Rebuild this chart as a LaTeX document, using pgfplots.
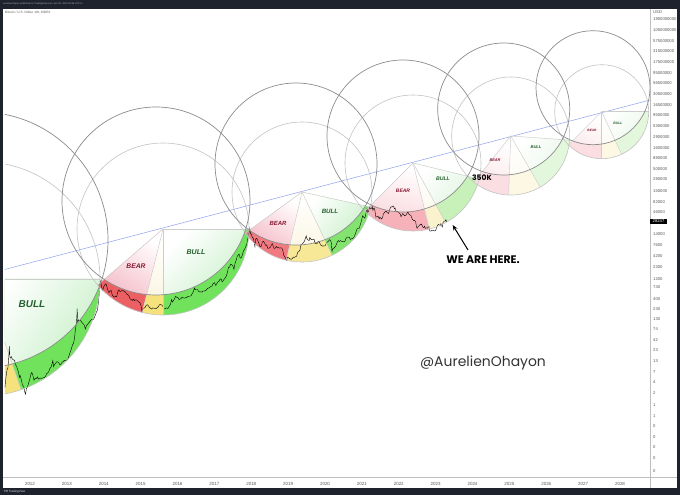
\documentclass[border=0pt]{standalone}
\usepackage{fontspec}
\setmainfont{Liberation Sans}
\newfontfamily\pop{Poppins}
\usepackage{pgfplots}
\pgfplotsset{compat=1.18}
\usetikzlibrary{arrows.meta}
\definecolor{tvdark}{RGB}{30,34,45}
\definecolor{bearB}{RGB}{236,96,100}
\definecolor{midB}{RGB}{245,226,125}
\definecolor{bullB}{RGB}{112,226,92}
\definecolor{bearBc}{RGB}{240,122,128}
\definecolor{midBc}{RGB}{246,232,150}
\definecolor{bullBc}{RGB}{130,228,110}
\definecolor{bearB2}{RGB}{246,178,184}
\definecolor{midB2}{RGB}{250,242,205}
\definecolor{bullB2}{RGB}{200,240,185}
\definecolor{bearB3}{RGB}{250,222,226}
\definecolor{midB3}{RGB}{252,248,228}
\definecolor{bullB3}{RGB}{226,247,220}
\definecolor{bearL}{RGB}{243,178,192}
\definecolor{midL}{RGB}{250,244,222}
\definecolor{bullL}{RGB}{196,238,196}
\definecolor{bearL2}{RGB}{248,208,215}
\definecolor{midL2}{RGB}{251,247,232}
\definecolor{bullL2}{RGB}{218,243,218}
\definecolor{bearL3}{RGB}{250,228,232}
\definecolor{midL3}{RGB}{252,249,238}
\definecolor{bullL3}{RGB}{232,246,232}
\definecolor{circD}{RGB}{140,140,140}
\definecolor{circL}{RGB}{195,195,195}
\definecolor{rayc}{RGB}{205,205,205}
\definecolor{trend}{RGB}{150,168,238}
\definecolor{bearT}{RGB}{135,25,50}
\definecolor{bullT}{RGB}{35,95,45}
% sector fill: apex, R, a1, a2, colour
\newcommand\band[5]{\fill[#5] (#1) -- ++(#3:#2) arc[start angle=#3, end angle=#4, radius=#2] -- cycle;}
% light part inside dark circle: apex, R, a1, a2, D, r, colour, shading angle
\newcommand\lite[8]{\begin{scope}\clip (#5) circle[radius=#6];
\shade[top color=white, bottom color=#7, shading angle=#8] (#1) -- ++(#3:#2) arc[start angle=#3, end angle=#4, radius=#2] -- cycle;
\end{scope}}
\newcommand\ray[3]{\draw[rayc, line width=0.45bp] (#1) -- ++(#2:#3);}
\begin{document}
\begin{tikzpicture}
\fill[tvdark] (0,0) rectangle (680bp,495bp);
\fill[white] (3bp,7bp) rectangle (677bp,486bp);
\draw[black!25, line width=0.8bp] (650bp,7bp) -- (650bp,486bp);
\draw[black!25, line width=0.8bp] (3bp,18bp) -- (677bp,18bp);
\node[anchor=west, inner sep=0pt, font=\fontsize{2.4}{3}\selectfont, text=white!70!black] at (3bp,491bp) {aurelienohayon published on TradingView.com, Apr 25, 2023 23:38 UTC+1};
\node[anchor=west, inner sep=0pt, font=\fontsize{3.2}{4}\selectfont, text=black!65] at (5bp,482.3bp) {Bitcoin / U.S. Dollar, 1W, INDEX};
\node[anchor=west, inner sep=0pt, font=\fontsize{3}{4}\selectfont, text=white!85!black] at (4bp,3.2bp) {\textbf{TV} TradingView};
\node[anchor=west, inner sep=0pt, font=\fontsize{4.2}{5}\selectfont, text=black!65] at (653bp,483bp) {USD};
\begin{axis}[
  at={(5bp,18bp)}, anchor=south west, scale only axis,
  width=645bp, height=467bp,
  xmin=2011.3220, xmax=2028.8136,
  ymode=log, ymin=0.022069, ymax=3.0857e9,
  clip mode=individual,
  axis line style={draw=none},
  major tick length=0pt, minor tick length=0pt,
  xtick={2012,2013,2014,2015,2016,2017,2018,2019,2020,2021,2022,2023,2024,2025,2026,2027,2028},
  xticklabels={2012,2013,2014,2015,2016,2017,2018,2019,2020,2021,2022,2023,2024,2025,2026,2027,2028},
  xticklabel style={font=\fontsize{4.5}{5}\selectfont, text=black!65, anchor=center, yshift=-6.5bp},
  ytick={1.9e9,1.05e9,5.75e8,3.15e8,1.75e8,9.5e7,5.65e7,3.05e7,1.65e7,9.5e6,5.3e6,2.9e6,1.6e6,8.8e5,5e5,2.8e5,1.5e5,82000,46000,14000,7600,4200,2300,1200,740,400,230,130,74,42,23,13,7.2,4,2.2,1.15,0.62,0.364,0.199,0.115,0.0627,0.0307},
  yticklabels={1900000000,1050000000,575000000,315000000,175000000,95000000,56500000,30500000,16500000,9500000,5300000,2900000,1600000,880000,500000,280000,150000,82000,46000,14000,7600,4200,2300,1200,740,400,230,130,74,42,23,13,7,4,2,1,1,0,0,0,0,0},
  yticklabel pos=right,
  yticklabel style={font=\fontsize{4.2}{5}\selectfont, text=black!65, anchor=west, inner sep=0pt, xshift=3bp},
]
\coordinate (A1) at (axis cs:2010.7254,1173);
\coordinate (D1) at (axis cs:2010.6441,10000);
\coordinate (A2) at (axis cs:2015.6068,18305);
\coordinate (D2) at (axis cs:2015.4169,85290);
\coordinate (A3) at (axis cs:2019.3763,139800);
\coordinate (D3) at (axis cs:2019.2136,651300);
\coordinate (A4) at (axis cs:2022.3864,688200);
\coordinate (D4) at (axis cs:2022.1153,3034000);
\coordinate (A5) at (axis cs:2025.0359,3034000);
\coordinate (D5) at (axis cs:2024.8461,13380000);
\coordinate (A6) at (axis cs:2027.5037,11540000);
\coordinate (D6) at (axis cs:2027.2678,43130000);
\begin{scope}
\clip (rel axis cs:0,0) rectangle (rel axis cs:1,1);
% cycle 1
\band{A1}{117bp}{240}{289}{midB}
\band{A1}{117bp}{289}{360}{bullB}
\lite{A1}{117bp}{240}{289}{D1}{128bp}{midL}{-5.5}
\lite{A1}{117bp}{289}{360}{D1}{128bp}{bullL}{54.5}
% cycle 2
\band{A2}{86bp}{220.6}{256}{bearB}
\band{A2}{86bp}{256}{270}{midB}
\band{A2}{86bp}{270}{360}{bullB}
\lite{A2}{86bp}{220.6}{256}{D2}{94bp}{bearL}{-31.7}
\lite{A2}{86bp}{256}{270}{D2}{94bp}{midL}{-7}
\lite{A2}{86bp}{270}{360}{D2}{94bp}{bullL}{45}
% cycle 3
\band{A3}{70bp}{216}{257}{bearBc}
\band{A3}{70bp}{257}{295.5}{midBc}
\band{A3}{70bp}{295.5}{347.6}{bullBc}
\lite{A3}{70bp}{216}{257}{D3}{81bp}{bearL}{-33.5}
\lite{A3}{70bp}{257}{295.5}{D3}{81bp}{midL}{6}
\lite{A3}{70bp}{295.5}{347.6}{D3}{81bp}{bullL}{51.5}
% cycle 4
\band{A4}{68bp}{225}{284}{bearB2}
\band{A4}{68bp}{284}{298.7}{midB2}
\band{A4}{68bp}{298.7}{346.4}{bullB2}
\lite{A4}{68bp}{225}{284}{D4}{76bp}{bearL2}{-15.5}
\lite{A4}{68bp}{284}{298.7}{D4}{76bp}{midL2}{21}
\lite{A4}{68bp}{298.7}{346.4}{D4}{76bp}{bullL2}{52.5}
% cycle 5
\band{A5}{59bp}{231.5}{268}{bearB3}
\band{A5}{59bp}{268}{300}{midB3}
\band{A5}{59bp}{300}{356}{bullB3}
\lite{A5}{59bp}{231.5}{268}{D5}{66bp}{bearL3}{-20}
\lite{A5}{59bp}{268}{300}{D5}{66bp}{midL3}{14}
\lite{A5}{59bp}{300}{356}{D5}{66bp}{bullL3}{58}
% cycle 6
\band{A6}{47bp}{225}{270}{bearB3}
\band{A6}{47bp}{270}{295}{midB3}
\band{A6}{47bp}{295}{360}{bullB3}
\lite{A6}{47bp}{225}{270}{D6}{57bp}{bearL3}{-22.5}
\lite{A6}{47bp}{270}{295}{D6}{57bp}{midL3}{12.5}
\lite{A6}{47bp}{295}{360}{D6}{57bp}{bullL3}{57.5}
\end{scope}
% BTC/USD weekly price
\addplot[black, line width=0.4bp] coordinates {
(2011.32,3.0)(2011.35,5.5)(2011.38,8.2)(2011.40,8.7)(2011.42,14)(2011.44,29)(2011.45,17)(2011.47,15)(2011.49,16.5)(2011.52,14.5)(2011.55,13.8)(2011.58,13.5)(2011.61,10.5)(2011.64,9.5)(2011.66,8.2)(2011.69,7)(2011.71,5.3)(2011.73,5.9)(2011.76,4.8)(2011.78,4.0)(2011.80,3.4)(2011.83,3.2)(2011.86,2.3)(2011.88,2.1)(2011.90,2.8)(2011.93,3.1)(2011.96,3.8)(2012.00,5.0)
(2012.03,6.5)(2012.05,6.9)(2012.08,5.8)(2012.11,4.5)(2012.14,5.0)(2012.17,4.9)(2012.20,5.4)(2012.23,4.8)(2012.26,4.9)(2012.29,5.1)(2012.32,5.0)(2012.35,5.1)(2012.38,5.2)(2012.42,5.5)(2012.45,6.5)(2012.48,6.7)(2012.51,7.3)(2012.54,8.6)(2012.57,9.2)(2012.60,11.2)(2012.62,13.3)(2012.64,9.5)(2012.66,10.5)(2012.69,11.3)(2012.72,12.3)(2012.75,12.4)(2012.78,11.7)(2012.81,10.6)(2012.84,10.9)(2012.87,12.1)(2012.90,12.5)(2012.93,13.4)(2012.96,13.4)(2013.00,13.6)
(2013.03,14.5)(2013.06,17.5)(2013.09,21)(2013.12,25)(2013.15,31)(2013.18,34)(2013.21,47)(2013.23,72)(2013.25,93)(2013.27,140)(2013.28,230)(2013.29,110)(2013.31,125)(2013.33,118)(2013.36,122)(2013.38,117)(2013.41,107)(2013.44,100)(2013.47,95)(2013.50,75)(2013.53,90)(2013.56,96)(2013.59,105)(2013.62,112)(2013.65,122)(2013.68,128)(2013.71,125)(2013.74,138)(2013.77,160)(2013.80,190)(2013.83,210)(2013.85,300)(2013.87,440)(2013.89,780)(2013.91,1050)(2013.93,870)(2013.95,700)(2013.97,620)(2014.00,770)
(2014.03,860)(2014.06,900)(2014.08,800)(2014.11,640)(2014.14,560)(2014.17,600)(2014.20,630)(2014.23,490)(2014.26,450)(2014.29,435)(2014.32,450)(2014.35,440)(2014.38,580)(2014.41,650)(2014.44,590)(2014.47,600)(2014.50,630)(2014.53,620)(2014.56,585)(2014.59,570)(2014.62,510)(2014.65,500)(2014.68,470)(2014.71,400)(2014.74,380)(2014.77,360)(2014.80,390)(2014.83,355)(2014.86,375)(2014.89,370)(2014.92,350)(2014.95,330)(2014.98,320)
(2015.01,275)(2015.04,190)(2015.06,230)(2015.09,235)(2015.12,245)(2015.15,275)(2015.18,285)(2015.21,270)(2015.24,245)(2015.27,235)(2015.30,225)(2015.33,240)(2015.36,236)(2015.39,232)(2015.42,227)(2015.45,245)(2015.48,255)(2015.51,285)(2015.54,290)(2015.57,282)(2015.60,265)(2015.63,230)(2015.66,228)(2015.69,240)(2015.72,232)(2015.75,238)(2015.78,265)(2015.81,290)(2015.84,380)(2015.86,330)(2015.89,360)(2015.92,395)(2015.95,455)(2015.98,425)
(2016.01,430)(2016.04,380)(2016.07,385)(2016.10,405)(2016.13,435)(2016.16,415)(2016.19,410)(2016.22,420)(2016.25,420)(2016.28,450)(2016.31,455)(2016.34,455)(2016.37,470)(2016.40,530)(2016.43,580)(2016.46,720)(2016.48,650)(2016.51,660)(2016.54,660)(2016.57,600)(2016.60,575)(2016.63,580)(2016.66,570)(2016.69,605)(2016.72,605)(2016.75,615)(2016.78,635)(2016.81,700)(2016.84,710)(2016.87,735)(2016.90,770)(2016.93,780)(2016.96,890)(2017.00,960)
(2017.02,900)(2017.04,820)(2017.07,920)(2017.10,1010)(2017.13,1050)(2017.16,1180)(2017.19,1150)(2017.21,1000)(2017.24,1080)(2017.27,1170)(2017.30,1260)(2017.33,1420)(2017.36,1780)(2017.38,2200)(2017.41,2250)(2017.44,2650)(2017.47,2550)(2017.50,2450)(2017.53,2000)(2017.56,2750)(2017.59,3250)(2017.62,4100)(2017.65,4400)(2017.67,4600)(2017.70,3700)(2017.73,3800)(2017.76,4400)(2017.79,5600)(2017.82,6000)(2017.85,7000)(2017.88,8000)(2017.91,11000)(2017.94,15000)(2017.96,19000)(2017.98,14000)(2018.00,14000)
(2018.03,11500)(2018.06,11000)(2018.08,8500)(2018.10,7000)(2018.12,10500)(2018.15,11000)(2018.18,9500)(2018.21,8200)(2018.24,6900)(2018.27,7000)(2018.30,8900)(2018.33,9300)(2018.36,8500)(2018.39,7400)(2018.42,7600)(2018.45,6300)(2018.48,6400)(2018.51,6600)(2018.54,7400)(2018.57,8200)(2018.60,7000)(2018.62,6300)(2018.65,6400)(2018.68,7000)(2018.71,6500)(2018.74,6600)(2018.77,6400)(2018.80,6500)(2018.83,6400)(2018.86,5500)(2018.88,4300)(2018.91,4000)(2018.94,3500)(2018.96,3250)(2018.98,3900)
(2019.01,3800)(2019.04,3600)(2019.08,3450)(2019.11,3600)(2019.14,3900)(2019.17,3850)(2019.20,4000)(2019.23,4100)(2019.26,5100)(2019.29,5300)(2019.32,5700)(2019.35,7800)(2019.38,8000)(2019.41,8600)(2019.44,9300)(2019.47,11000)(2019.49,12500)(2019.51,10800)(2019.54,10000)(2019.57,9700)(2019.59,11500)(2019.62,10300)(2019.65,10100)(2019.68,10400)(2019.71,10200)(2019.73,8200)(2019.76,8100)(2019.79,8300)(2019.82,9300)(2019.85,8800)(2019.88,7600)(2019.91,7400)(2019.94,7100)(2019.97,7300)(2020.00,7200)
(2020.03,8100)(2020.06,8900)(2020.09,9300)(2020.12,10200)(2020.15,9700)(2020.17,8700)(2020.19,5300)(2020.21,6200)(2020.24,6400)(2020.27,6800)(2020.30,7500)(2020.33,8800)(2020.36,9700)(2020.39,9200)(2020.42,9700)(2020.45,9300)(2020.48,9100)(2020.51,9200)(2020.54,9300)(2020.57,11000)(2020.60,11600)(2020.63,11800)(2020.66,11600)(2020.69,10300)(2020.72,10700)(2020.75,10800)(2020.78,11400)(2020.81,13000)(2020.84,15500)(2020.87,18500)(2020.90,19000)(2020.93,19200)(2020.96,23500)(2020.99,29000)
(2021.02,38000)(2021.05,35000)(2021.08,33000)(2021.10,39000)(2021.12,47000)(2021.14,57000)(2021.16,45000)(2021.19,51000)(2021.21,61000)(2021.23,55000)(2021.25,58000)(2021.27,57000)(2021.28,63000)(2021.30,51000)(2021.32,57000)(2021.34,58000)(2021.36,46000)(2021.38,35000)(2021.40,36000)(2021.43,37000)(2021.45,35500)(2021.47,32000)(2021.49,35000)(2021.51,33500)(2021.53,31500)(2021.56,34000)(2021.58,41000)(2021.60,44000)(2021.62,46000)(2021.65,49000)(2021.67,47000)(2021.69,45000)(2021.72,43000)(2021.74,48000)(2021.76,55000)(2021.78,61000)(2021.80,62000)(2021.82,61000)(2021.85,65000)(2021.87,60000)(2021.88,56000)(2021.90,58000)(2021.92,49000)(2021.94,47000)(2021.96,48000)(2021.98,47000)(2022.00,46300)
(2022.02,43000)(2022.04,42000)(2022.06,36000)(2022.08,38000)(2022.10,42500)(2022.12,42000)(2022.15,38000)(2022.17,39000)(2022.19,38500)(2022.21,41000)(2022.23,44500)(2022.25,46800)(2022.27,42000)(2022.29,40000)(2022.31,39500)(2022.33,38500)(2022.35,34000)(2022.37,31000)(2022.39,30000)(2022.41,29000)(2022.43,29500)(2022.46,27000)(2022.48,20500)(2022.50,19000)(2022.52,20500)(2022.54,21000)(2022.56,22500)(2022.58,23500)(2022.60,23000)(2022.62,24000)(2022.64,21500)(2022.66,20000)(2022.68,19800)(2022.70,21500)(2022.72,19000)(2022.74,19300)(2022.76,19500)(2022.78,19200)(2022.80,20500)(2022.82,21000)(2022.84,16500)(2022.86,16300)(2022.88,16500)(2022.90,17000)(2022.92,17100)(2022.94,16800)(2022.96,16500)(2022.98,16600)(2023.00,16700)
(2023.02,19000)(2023.04,21000)(2023.06,23000)(2023.08,23500)(2023.10,23000)(2023.12,21800)(2023.14,24500)(2023.16,23200)(2023.18,20400)(2023.20,26000)(2023.22,27500)(2023.24,28000)(2023.26,28500)(2023.28,30500)(2023.29,27800)(2023.31,28247)
};
% log trend line
\addplot[trend, line width=0.55bp] coordinates {(2010.5,1282) (2029.5,3.16e7)};
\begin{scope}
\clip (rel axis cs:0,0) rectangle (rel axis cs:1,1);
% rays
\ray{A1}{289}{117bp}\ray{A1}{360}{117bp}
\ray{A2}{220.6}{86bp}\ray{A2}{256}{86bp}\ray{A2}{270}{86bp}\ray{A2}{360}{86bp}
\ray{A3}{216}{70bp}\ray{A3}{257}{70bp}\ray{A3}{295.5}{70bp}\ray{A3}{347.6}{70bp}
\ray{A4}{225}{68bp}\ray{A4}{284}{68bp}\ray{A4}{298.7}{68bp}\ray{A4}{346.4}{68bp}
\ray{A5}{231.5}{59bp}\ray{A5}{268}{59bp}\ray{A5}{300}{59bp}\ray{A5}{356}{59bp}
\ray{A6}{225}{47bp}\ray{A6}{270}{47bp}\ray{A6}{295}{47bp}\ray{A6}{360}{47bp}
% circles
\draw[circL, line width=0.6bp] (A1) circle[radius=117bp];
\draw[circL, line width=0.6bp] (A2) circle[radius=86bp];
\draw[circL, line width=0.6bp] (A3) circle[radius=70bp];
\draw[circL, line width=0.6bp] (A4) circle[radius=68bp];
\draw[circL, line width=0.6bp] (A5) circle[radius=59bp];
\draw[circL, line width=0.6bp] (A6) circle[radius=47bp];
\draw[circD, line width=0.7bp] (D1) circle[radius=128bp];
\draw[circD, line width=0.7bp] (D2) circle[radius=94bp];
\draw[circD, line width=0.7bp] (D3) circle[radius=81bp];
\draw[circD, line width=0.7bp] (D4) circle[radius=76bp];
\draw[circD, line width=0.7bp] (D5) circle[radius=66bp];
\draw[circD, line width=0.7bp] (D6) circle[radius=57bp];
\end{scope}
% labels
\node[bullT, font=\fontsize{10}{12}\selectfont\bfseries\itshape] at (axis cs:2012.0542,297) {BULL};
\node[bearT, font=\fontsize{6.8}{8}\selectfont\bfseries\itshape] at (axis cs:2014.8746,2396) {BEAR};
\node[bullT, font=\fontsize{7.1}{8}\selectfont\bfseries\itshape] at (axis cs:2016.5017,5171) {BULL};
\node[bearT, font=\fontsize{6}{7}\selectfont\bfseries\itshape] at (axis cs:2018.7254,25450) {BEAR};
\node[bullT, font=\fontsize{6.2}{7}\selectfont\bfseries\itshape] at (axis cs:2020.1356,49230) {BULL};
\node[bearT, font=\fontsize{5}{6}\selectfont\bfseries\itshape] at (axis cs:2022.1153,147700) {BEAR};
\node[bullT, font=\fontsize{5.2}{6}\selectfont\bfseries\itshape] at (axis cs:2023.2,285700) {BULL};
\node[bearT, font=\fontsize{3.9}{5}\selectfont\bfseries\itshape] at (axis cs:2024.6102,811700) {BEAR};
\node[bullT, font=\fontsize{4.1}{5}\selectfont\bfseries\itshape] at (axis cs:2025.7220,1658000) {BULL};
\node[bearT, font=\fontsize{3.2}{4}\selectfont\bfseries\itshape] at (axis cs:2027.2407,4221000) {BEAR};
\node[bullT, font=\fontsize{3.4}{4}\selectfont\bfseries\itshape] at (axis cs:2027.9458,6200000) {BULL};
\node[font=\pop\fontsize{7.6}{9}\selectfont\bfseries] at (axis cs:2024.2576,301800) {350K};
\node[font=\pop\fontsize{11}{13}\selectfont\bfseries] at (axis cs:2024.2847,3332) {WE ARE HERE.};
\draw[-{Stealth[length=5.5bp,width=4.5bp]}, line width=1bp] (axis cs:2023.8780,5771) -- (axis cs:2023.4630,22800);
\node[font=\pop\fontsize{14}{16}\selectfont, text=black!80] at (axis cs:2024.2847,11.79) {@AurelienOhayon};
\node[fill=black, text=white, anchor=west, inner xsep=2.5bp, inner ysep=1bp, font=\fontsize{4.2}{5}\selectfont] at (axis cs:2028.8136,28247) {28247};
\end{axis}
\pgfresetboundingbox
\useasboundingbox (0,0) rectangle (680bp,495bp);
\end{tikzpicture}
\end{document}
